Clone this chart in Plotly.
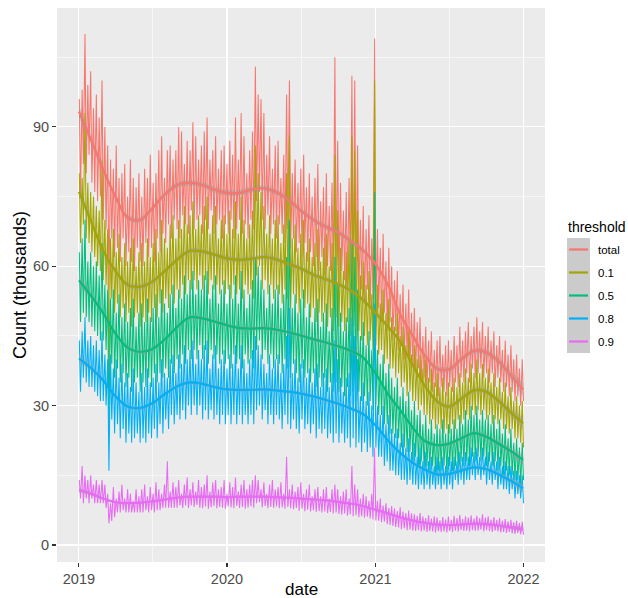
import pandas as pd
import plotly.graph_objects as go

# ---------------- data (thousands) ----------------
SERIES = ["total", "0.1", "0.5", "0.8", "0.9"]
COLORS = ["#F8766D", "#A3A500", "#00BF7D", "#00B0F6", "#E76BF3"]

# weekly peak (hi) and trough (lo) values, weeks starting 2019-01-01
RED_HI = [96, 98, 110, 99, 102, 94, 97, 92, 100, 90,
          86, 83, 81, 86, 79, 80, 82, 75, 83, 79,
          77, 80, 75, 81, 79, 84, 78, 80, 85, 88,
          79, 85, 86, 83, 85, 90, 89, 82, 87, 85,
          91, 88, 83, 86, 89, 92, 83, 85, 88, 81,
          85, 86, 82, 87, 84, 92, 83, 93, 88, 80,
          85, 89, 103, 97, 96, 93, 84, 88, 81, 86,
          87, 79, 84, 97, 100, 80, 83, 78, 81, 84,
          77, 80, 75, 79, 82, 74, 77, 80, 73, 78,
          105, 87, 78, 72, 76, 79, 101, 100, 86, 70,
          73, 68, 71, 66, 109, 68, 64, 67, 61, 64,
          60, 57, 59, 54, 56, 52, 55, 50, 51, 48,
          49, 45, 47, 44, 46, 42, 44, 45, 41, 43,
          44, 42, 45, 43, 47, 44, 46, 48, 45, 47,
          49, 46, 48, 45, 47, 44, 46, 43, 45, 42,
          44, 41, 43, 40, 41, 38, 40]
RED_LO = [75, 82, 80, 84, 78, 76, 74, 75, 70, 68,
          55, 66, 62, 64, 61, 66, 60, 63, 61, 59,
          64, 61, 60, 65, 62, 64, 61, 66, 63, 67,
          65, 69, 66, 70, 68, 66, 71, 69, 67, 72,
          68, 70, 71, 67, 70, 68, 72, 67, 69, 70,
          66, 69, 67, 70, 66, 68, 70, 67, 69, 66,
          70, 68, 74, 76, 70, 68, 71, 67, 69, 66,
          69, 67, 65, 68, 64, 66, 63, 65, 62, 65,
          61, 63, 60, 62, 59, 62, 58, 60, 59, 57,
          60, 56, 59, 57, 55, 58, 54, 56, 53, 55,
          52, 55, 51, 53, 50, 51, 48, 50, 46, 48,
          44, 46, 42, 43, 40, 41, 38, 39, 37, 38,
          35, 36, 34, 35, 33, 34, 32, 34, 33, 32,
          34, 33, 35, 34, 36, 35, 37, 35, 38, 36,
          37, 38, 36, 37, 35, 37, 34, 36, 35, 33,
          34, 32, 33, 31, 32, 30, 31]

YEL_HI = [80, 79, 93, 78, 76, 75, 73, 72, 83, 70,
          68, 66, 68, 63, 67, 62, 65, 61, 64, 66,
          60, 63, 65, 61, 66, 62, 65, 68, 63, 70,
          66, 64, 69, 71, 66, 70, 68, 73, 69, 71,
          74, 68, 71, 69, 73, 75, 67, 71, 73, 66,
          70, 71, 67, 72, 68, 74, 67, 75, 70, 66,
          69, 72, 86, 80, 76, 73, 67, 71, 66, 70,
          71, 65, 69, 80, 88, 66, 69, 64, 67, 70,
          63, 66, 62, 65, 68, 61, 64, 67, 60, 65,
          84, 72, 64, 59, 63, 66, 88, 85, 72, 58,
          61, 56, 59, 54, 100, 56, 52, 55, 50, 53,
          49, 47, 50, 45, 47, 43, 46, 41, 43, 40,
          41, 38, 40, 36, 38, 35, 37, 34, 36, 33,
          35, 34, 36, 34, 37, 35, 38, 36, 39, 37,
          40, 37, 39, 36, 38, 35, 37, 34, 36, 33,
          35, 32, 34, 31, 32, 30, 31]
YEL_LO = [65, 69, 66, 65, 63, 62, 60, 59, 57, 56,
          35, 53, 50, 52, 49, 51, 48, 50, 47, 49,
          50, 47, 49, 48, 50, 48, 51, 49, 52, 50,
          53, 51, 54, 52, 55, 53, 56, 54, 57, 55,
          57, 55, 58, 55, 57, 54, 57, 55, 56, 54,
          56, 54, 55, 53, 56, 54, 55, 53, 56, 54,
          55, 53, 58, 60, 55, 57, 54, 56, 53, 55,
          54, 52, 55, 53, 51, 54, 52, 50, 53, 51,
          52, 49, 51, 48, 50, 48, 50, 47, 49, 46,
          49, 47, 48, 46, 48, 45, 47, 44, 46, 44,
          45, 43, 44, 42, 43, 41, 42, 39, 40, 38,
          38, 36, 37, 34, 35, 32, 33, 31, 31, 29,
          30, 28, 28, 26, 27, 25, 26, 25, 24, 25,
          24, 26, 25, 27, 26, 27, 28, 27, 29, 28,
          29, 28, 29, 27, 28, 26, 27, 26, 27, 25,
          25, 24, 25, 23, 23, 22, 21]

GRN_HI = [63, 66, 70, 61, 63, 60, 61, 58, 65, 56,
          55, 53, 55, 50, 54, 49, 52, 48, 51, 53,
          47, 50, 52, 48, 53, 49, 51, 54, 49, 55,
          52, 50, 54, 56, 51, 55, 53, 58, 54, 57,
          59, 54, 57, 55, 58, 59, 53, 56, 58, 52,
          55, 57, 52, 56, 53, 58, 52, 59, 55, 51,
          54, 57, 62, 60, 57, 55, 51, 56, 52, 55,
          56, 51, 54, 62, 70, 51, 54, 50, 53, 55,
          49, 52, 48, 51, 53, 47, 50, 52, 46, 51,
          62, 56, 50, 46, 49, 51, 65, 62, 55, 45,
          48, 43, 46, 42, 76, 42, 39, 41, 37, 39,
          36, 34, 36, 32, 34, 31, 33, 29, 31, 28,
          29, 26, 28, 25, 27, 24, 26, 25, 27, 24,
          26, 25, 27, 25, 28, 26, 29, 27, 30, 28,
          30, 27, 29, 27, 28, 26, 28, 25, 27, 24,
          26, 23, 25, 22, 23, 21, 22]
GRN_LO = [48, 50, 49, 48, 47, 46, 45, 44, 44, 42,
          25, 39, 36, 38, 35, 37, 34, 36, 33, 35,
          36, 33, 35, 34, 36, 34, 37, 35, 37, 36,
          38, 36, 39, 37, 40, 38, 41, 39, 42, 40,
          42, 40, 43, 40, 42, 39, 42, 40, 41, 39,
          41, 39, 40, 38, 41, 39, 40, 38, 41, 39,
          40, 38, 42, 44, 40, 42, 39, 41, 38, 40,
          39, 37, 40, 38, 36, 39, 37, 35, 38, 36,
          37, 35, 37, 34, 36, 34, 36, 33, 35, 33,
          35, 33, 34, 32, 34, 32, 33, 31, 33, 31,
          32, 30, 31, 29, 30, 28, 28, 26, 26, 24,
          24, 23, 23, 21, 21, 20, 20, 18, 19, 17,
          18, 16, 17, 16, 17, 15, 16, 16, 17, 15,
          17, 16, 17, 16, 18, 17, 18, 17, 19, 18,
          19, 18, 19, 17, 18, 17, 18, 16, 17, 15,
          16, 15, 15, 14, 14, 13, 14]

BLU_HI = [44, 46, 49, 44, 45, 43, 44, 42, 46, 41,
          40, 41, 38, 40, 36, 39, 35, 37, 34, 38,
          35, 33, 37, 34, 38, 35, 36, 39, 35, 40,
          37, 36, 40, 41, 37, 41, 39, 43, 40, 42,
          44, 39, 42, 40, 43, 44, 38, 41, 43, 38,
          40, 42, 38, 41, 39, 43, 38, 43, 40, 37,
          40, 42, 45, 43, 41, 39, 37, 41, 38, 40,
          41, 37, 39, 45, 51, 37, 40, 36, 39, 40,
          36, 38, 35, 38, 39, 34, 37, 38, 34, 37,
          44, 40, 36, 33, 36, 37, 49, 45, 40, 32,
          35, 31, 33, 30, 52, 30, 28, 30, 26, 28,
          25, 24, 25, 22, 24, 21, 23, 20, 22, 19,
          21, 18, 20, 18, 19, 17, 19, 18, 19, 17,
          19, 18, 19, 18, 20, 19, 20, 19, 21, 20,
          21, 19, 21, 19, 20, 18, 20, 18, 19, 17,
          18, 17, 17, 16, 16, 15, 15]
BLU_LO = [33, 36, 35, 34, 34, 33, 32, 31, 31, 30,
          16, 27, 24, 26, 23, 25, 22, 24, 22, 23,
          24, 22, 23, 22, 24, 23, 25, 23, 26, 24,
          27, 25, 28, 26, 28, 27, 29, 27, 30, 28,
          30, 28, 30, 27, 29, 27, 29, 27, 28, 26,
          28, 26, 28, 26, 28, 26, 28, 26, 28, 26,
          28, 26, 29, 30, 27, 29, 26, 28, 26, 28,
          27, 25, 28, 26, 25, 27, 25, 24, 27, 25,
          26, 24, 26, 23, 25, 24, 25, 23, 24, 22,
          24, 22, 24, 22, 23, 21, 23, 21, 22, 20,
          22, 20, 21, 19, 21, 19, 19, 17, 18, 16,
          16, 15, 15, 14, 14, 13, 14, 13, 13, 12,
          13, 12, 13, 12, 13, 12, 13, 12, 13, 12,
          13, 12, 14, 13, 14, 13, 14, 14, 15, 14,
          15, 14, 15, 13, 14, 13, 14, 12, 13, 12,
          12, 11, 12, 10, 11, 10, 9]

PUR_HI = [14, 17, 15, 14, 15, 13, 14, 13, 14, 13,
          11, 9, 12.5, 10, 11.5, 13, 10, 12, 11, 9.5,
          12, 10.5, 12, 13, 10.5, 12.5, 11, 13.5, 12, 11,
          13, 18, 11.5, 13.5, 12.5, 14, 11, 13, 14.5, 12,
          13.5, 11.5, 14, 12.5, 13, 15, 11.5, 13.5, 14, 12,
          12.5, 14, 11, 13.5, 12.5, 14.5, 11.5, 13, 14, 12,
          13, 14, 15, 14, 12, 13.5, 11, 13, 14, 12,
          12.5, 13.5, 11, 19, 12, 13, 11.5, 12.5, 13.5, 11,
          12, 13, 10.5, 12, 12.5, 10.5, 12, 12.5, 10, 12,
          13, 12, 10.5, 11.5, 12, 10, 17, 13, 12, 10,
          11, 10.5, 9.5, 11, 21, 9.5, 10, 8.5, 9, 8,
          8.4, 7.9, 7.3, 8.1, 7.2, 6.9, 7.4, 6.8, 6.6, 6.3,
          6.9, 6.1, 5.8, 6.4, 5.7, 6.2, 5.9, 5.3, 6.0, 5.5,
          6.1, 5.4, 6.3, 5.8, 6.5, 5.6, 6.2, 5.9, 6.4, 5.7,
          6.3, 5.8, 6.6, 5.9, 6.2, 5.5, 6.0, 5.4, 5.8, 5.2,
          5.6, 5.1, 5.4, 4.9, 5.2, 4.7, 5.0]
PUR_LO = [10, 9, 10, 9, 10, 9, 9, 9, 9, 8,
          4.7, 5.2, 6, 7, 7, 7.5, 7, 7, 7, 7,
          7, 7, 7, 7.5, 7, 7.5, 7, 7.5, 7.5, 8,
          8, 8, 8, 8, 8, 8.5, 8, 8.5, 8, 8.5,
          8.2, 8.6, 8.0, 7.9, 8.3, 7.8, 8.1, 8.4, 7.9, 8.2,
          8.0, 7.8, 8.3, 8.1, 7.9, 8.4, 8.0, 8.2, 7.8, 8.1,
          8.3, 8.0, 9.0, 9.2, 8.1, 8.4, 7.9, 8.2, 8.0, 8.3,
          7.9, 8.1, 7.8, 8.2, 7.9, 7.7, 8.0, 7.4, 7.8, 7.3,
          7.6, 7.2, 7.5, 7.1, 7.3, 7.0, 7.2, 6.9, 7.1, 6.8,
          7.0, 6.7, 6.5, 6.8, 6.3, 6.6, 6.2, 6.4, 6.0, 6.2,
          5.9, 6.1, 5.7, 5.5, 5.3, 5.2, 4.9, 5.0, 4.5, 4.3,
          4.1, 3.9, 3.8, 3.4, 3.6, 3.2, 3.3, 3.1, 3.0, 3.2,
          2.9, 3.1, 2.8, 3.0, 2.9, 2.7, 3.0, 2.8, 2.9, 2.7,
          3.0, 2.8, 3.1, 2.9, 3.2, 3.0, 3.1, 2.9, 3.2, 3.0,
          3.1, 3.3, 2.9, 3.2, 3.0, 2.8, 3.1, 2.9, 2.7, 2.8,
          2.6, 2.8, 2.5, 2.4, 2.6, 2.3, 2.2]

# monthly values of the smoothed trend (1st of each month, last = 2021-12-31)
RED_S = [93.3, 87, 81, 75, 70.5, 70, 72.5, 75.5, 77.5, 78, 77.5, 76.5,
         75.8, 75.8, 76.5, 76.8, 76, 74.3, 72, 70, 68.5, 67.3, 65.5, 63.5,
         60.5, 56, 50, 45.3, 41, 38, 37.8, 40, 41.8, 41.5, 39.5, 36.5, 33.5]
YEL_S = [76, 69.5, 63.5, 59, 56, 55.6, 56.7, 59, 61.5, 63.3, 63.2, 62.5,
         61.7, 61.4, 61.6, 62, 61.5, 60.5, 59.5, 58.2, 57.2, 56.2, 54.8, 52.8,
         50, 47, 44, 39, 34.5, 31, 29.8, 31.5, 33.3, 33, 31, 28.5, 26.2]
GRN_S = [57, 53.5, 50, 45.5, 42.5, 41.6, 42.2, 44.3, 47, 49, 48.8, 48.1,
         47.3, 46.7, 46.6, 46.7, 46.4, 45.8, 45.1, 44.3, 43.6, 42.8, 41.8, 40.4,
         37, 32.5, 29.3, 25.5, 22.5, 21.5, 21.8, 23, 24.1, 23.3, 21.8, 20.2, 18.3]
BLU_S = [40.2, 38, 35.5, 32, 29.8, 29.5, 30.5, 32.5, 34.2, 35, 34.7, 34,
         33.5, 33.4, 33.4, 33.5, 33.3, 33, 32.6, 32, 31.2, 30.4, 29.4, 28.2,
         25.8, 22.5, 20, 17.8, 16.3, 15.2, 15.3, 16, 16.7, 16.3, 15.2, 13.8, 12.2]
PUR_S = [11.8, 11, 10, 9.2, 9, 9.1, 9.4, 9.8, 10.2, 10.4, 10.4, 10.4,
         10.3, 10.4, 10.4, 10.4, 10.3, 10.2, 10, 9.8, 9.6, 9.3, 8.9, 8.4,
         7.6, 6.8, 6, 5.3, 4.8, 4.4, 4.3, 4.4, 4.6, 4.5, 4.2, 3.8, 3.4]
# half-width of the confidence band
SMOOTH_SE = [1.4, 0.95, 0.75, 0.65, 0.6, 0.6, 0.6, 0.6, 0.6, 0.6, 0.6, 0.6,
             0.6, 0.6, 0.6, 0.6, 0.6, 0.6, 0.6, 0.6, 0.6, 0.6, 0.6, 0.6,
             0.6, 0.6, 0.6, 0.6, 0.6, 0.6, 0.6, 0.6, 0.6, 0.65, 0.75, 0.95, 1.4]
SE_SCALE = [1.0, 0.9, 0.8, 0.65, 0.35]

X_TICKS = ["2019-01-01", "2020-01-01", "2021-01-01", "2022-01-01"]
X_TICK_TEXT = ["2019", "2020", "2021", "2022"]
Y_TICKS = [0, 30, 60, 90]

HI = [RED_HI, YEL_HI, GRN_HI, BLU_HI, PUR_HI]
LO = [RED_LO, YEL_LO, GRN_LO, BLU_LO, PUR_LO]
SM = [RED_S, YEL_S, GRN_S, BLU_S, PUR_S]

# ---------------- build ----------------
start = pd.Timestamp("2019-01-01")
n_weeks = len(RED_HI)
raw_x = []
for w in range(n_weeks):
    raw_x.append(start + pd.Timedelta(days=7 * w + 1))
    raw_x.append(start + pd.Timedelta(days=7 * w + 4))

sm_x = list(pd.date_range("2019-01-01", periods=36, freq="MS")) + [pd.Timestamp("2021-12-31")]

fig = go.Figure()
for name, col, hi, lo in zip(SERIES, COLORS, HI, LO):
    ys = []
    for a, b in zip(hi, lo):
        ys += [a, b]
    fig.add_trace(go.Scatter(x=raw_x, y=ys, mode="lines", name=name,
                             line=dict(color=col, width=1.05), showlegend=False,
                             hoverinfo="skip"))

for name, col, sm, sc in zip(SERIES, COLORS, SM, SE_SCALE):
    lower = [v - s * sc for v, s in zip(sm, SMOOTH_SE)]
    upper = [v + s * sc for v, s in zip(sm, SMOOTH_SE)]
    fig.add_trace(go.Scatter(x=sm_x, y=lower, mode="lines", line=dict(width=0, shape="spline"),
                             showlegend=False, hoverinfo="skip"))
    fig.add_trace(go.Scatter(x=sm_x, y=upper, mode="lines", line=dict(width=0, shape="spline"),
                             fill="tonexty", fillcolor="rgba(153,153,153,0.4)",
                             showlegend=False, hoverinfo="skip"))
    fig.add_trace(go.Scatter(x=sm_x, y=sm, mode="lines", line=dict(color=col, width=2.2, shape="spline"),
                             showlegend=False, hoverinfo="skip"))

W, H = 628, 598
L, R, T, B = 57, 545, 8, 562
def fx(px):
    return (px - L) / (R - L)
def fy(py):
    return (B - py) / (B - T)

FONT = "Liberation Sans, Arial, Helvetica, sans-serif"

fig.update_layout(
    width=W, height=H,
    margin=dict(l=L, r=W - R, t=T, b=H - B, autoexpand=False),
    paper_bgcolor="white", plot_bgcolor="#EBEBEB",
    showlegend=False,
    font=dict(family=FONT, color="black"),
    xaxis=dict(type="date", range=["2018-11-08", "2022-02-23"],
               tickmode="array", tickvals=X_TICKS, ticktext=X_TICK_TEXT,
               showgrid=True, gridcolor="white", gridwidth=1.1,
               minor=dict(tickmode="array",
                          tickvals=["2019-07-02", "2020-07-02", "2021-07-02"],
                          showgrid=True, gridcolor="white", gridwidth=0.55),
               ticks="outside", ticklen=4, tickwidth=1.1, tickcolor="#333333",
               tickfont=dict(size=14.5, color="#4D4D4D"),
               zeroline=False, showline=False, fixedrange=True),
    yaxis=dict(range=[-3.66, 115.6], tickmode="array", tickvals=Y_TICKS,
               showgrid=True, gridcolor="white", gridwidth=1.1,
               minor=dict(tickmode="array", tickvals=[15, 45, 75, 105],
                          showgrid=True, gridcolor="white", gridwidth=0.55),
               ticks="outside", ticklen=4, tickwidth=1.1, tickcolor="#333333",
               tickfont=dict(size=14.5, color="#4D4D4D"),
               zeroline=False, showline=False, fixedrange=True),
)

annotations = [
    dict(text="date", x=fx(301), y=fy(589), xref="paper", yref="paper",
         showarrow=False, xanchor="center", yanchor="middle",
         font=dict(size=17, color="black", family=FONT)),
    dict(text="Count (thousands)", x=fx(20), y=fy(285), xref="paper", yref="paper",
         showarrow=False, xanchor="center", yanchor="middle", textangle=-90,
         font=dict(size=18, color="black", family=FONT)),
    dict(text="threshold", x=fx(566), y=fy(227), xref="paper", yref="paper",
         showarrow=False, xanchor="left", yanchor="middle",
         font=dict(size=14, color="black", family=FONT)),
]
shapes = [dict(type="rect", xref="paper", yref="paper",
               x0=fx(567), x1=fx(590), y0=fy(238), y1=fy(353),
               fillcolor="#CBCBCB", line=dict(width=0), layer="above")]
for i, (name, col) in enumerate(zip(SERIES, COLORS)):
    yc = 249.5 + 23 * i
    shapes.append(dict(type="line", xref="paper", yref="paper",
                       x0=fx(569), x1=fx(588), y0=fy(yc), y1=fy(yc),
                       line=dict(color=col, width=2.2), layer="above"))
    annotations.append(dict(text=name, x=fx(596), y=fy(yc), xref="paper", yref="paper",
                            showarrow=False, xanchor="left", yanchor="middle",
                            font=dict(size=11.5, color="black", family=FONT)))

fig.update_layout(annotations=annotations, shapes=shapes)
fig.write_html("out.html", config={"displayModeBar": False, "staticPlot": True},
               post_script="document.body.style.margin='0px';document.body.style.overflow='hidden';")
